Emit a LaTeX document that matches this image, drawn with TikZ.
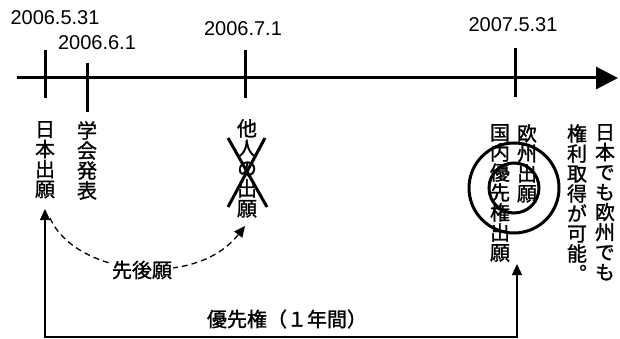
\documentclass[tikz,border=0pt]{standalone}
\usepackage{fontspec}
\setmainfont{Liberation Sans}
\newfontfamily\jp[FakeBold=1.2]{Noto Sans CJK JP}
\newfontfamily\jpv[RawFeature=+vert,FakeBold=1.2]{Noto Sans CJK JP}
\usetikzlibrary{arrows.meta}
\begin{document}
\begin{tikzpicture}[x=1pt,y=-1pt,
  heavy/.style={line width=3pt},
  datelabel/.style={font=\fontsize{20}{24}\selectfont, inner sep=0pt},
  vtext/.style={font=\jpv\fontsize{20}{20}\selectfont, align=center, inner sep=0pt, anchor=north},
  htext/.style={font=\jp\fontsize{20}{20}\selectfont, inner sep=1pt},
  thinarrow/.style={line width=1.3pt, -{Triangle[length=11pt,width=10pt]}},
]
\useasboundingbox (0,0) rectangle (620,339);
% axis
\coordinate (axisL) at (17,78);
\coordinate (axisR) at (618,78);
\draw[heavy, -{Triangle[length=22pt,width=22pt]}] (axisL) -- (axisR);
% ticks
\coordinate (t1a) at (45,50);  \coordinate (t1b) at (45,98);
\coordinate (t2a) at (87,63);  \coordinate (t2b) at (87,112);
\coordinate (t3a) at (245,50); \coordinate (t3b) at (245,98);
\coordinate (t4a) at (515,48); \coordinate (t4b) at (515,97);
\draw[heavy] (t1a) -- (t1b);
\draw[heavy] (t2a) -- (t2b);
\draw[heavy] (t3a) -- (t3b);
\draw[heavy] (t4a) -- (t4b);
% dates
\node[datelabel] (d1) at (55,18) {2006.5.31};
\node[datelabel] (d2) at (97,43) {2006.6.1};
\node[datelabel] (d3) at (243,29) {2006.7.1};
\node[datelabel] (d4) at (513,25) {2007.5.31};
% vertical texts
\node[vtext] (jp1) at (45,121) {日\\本\\出\\願};
\node[vtext] (gk) at (87,121) {学\\会\\発\\表};
\node[vtext] (tn) at (247,119) {他\\人\\の\\出\\願};
\node[vtext] (kn) at (500,124) {国\\内\\優\\先\\権\\出\\願};
\node[vtext] (eu) at (527,124) {欧\\州\\出\\願};
\node[vtext] (nt1) at (605,124) {日\\本\\で\\も\\欧\\州\\で\\も};
\node[vtext] (nt2) at (577,124) {権\\利\\取\\得\\が\\可\\能\\。};
% cross
\coordinate (x1) at (228,138); \coordinate (x2) at (267,207);
\coordinate (x3) at (265,138); \coordinate (x4) at (228,207);
\draw[heavy] (x1) -- (x2);
\draw[heavy] (x3) -- (x4);
% circles
\coordinate (cc) at (514,188);
\draw[heavy] (cc) circle[radius=45pt];
\draw[heavy] (cc) circle[radius=25pt];
% priority arrow
\coordinate (bL) at (45,337);
\coordinate (bR) at (517,337);
\coordinate (tipL) at (45,209);
\coordinate (tipR) at (517,264);
\draw[thinarrow] (bR) -- (bL) -- (tipL);
\draw[thinarrow] (bL) -- (bR) -- (tipR);
\node[htext] (pr) at (287,319) {優先権（１年間）};
% dashed curve
\coordinate (dS) at (50,218);
\coordinate (dE) at (245,226);
\draw[line width=1.3pt, dash pattern=on 6pt off 4pt, -{Triangle[length=11pt,width=10pt]}]
  (dS) .. controls (75,275) and (195,290) .. (dE);
\node[htext, fill=white] (sk) at (142,270) {先後願};
\end{tikzpicture}
\end{document}
